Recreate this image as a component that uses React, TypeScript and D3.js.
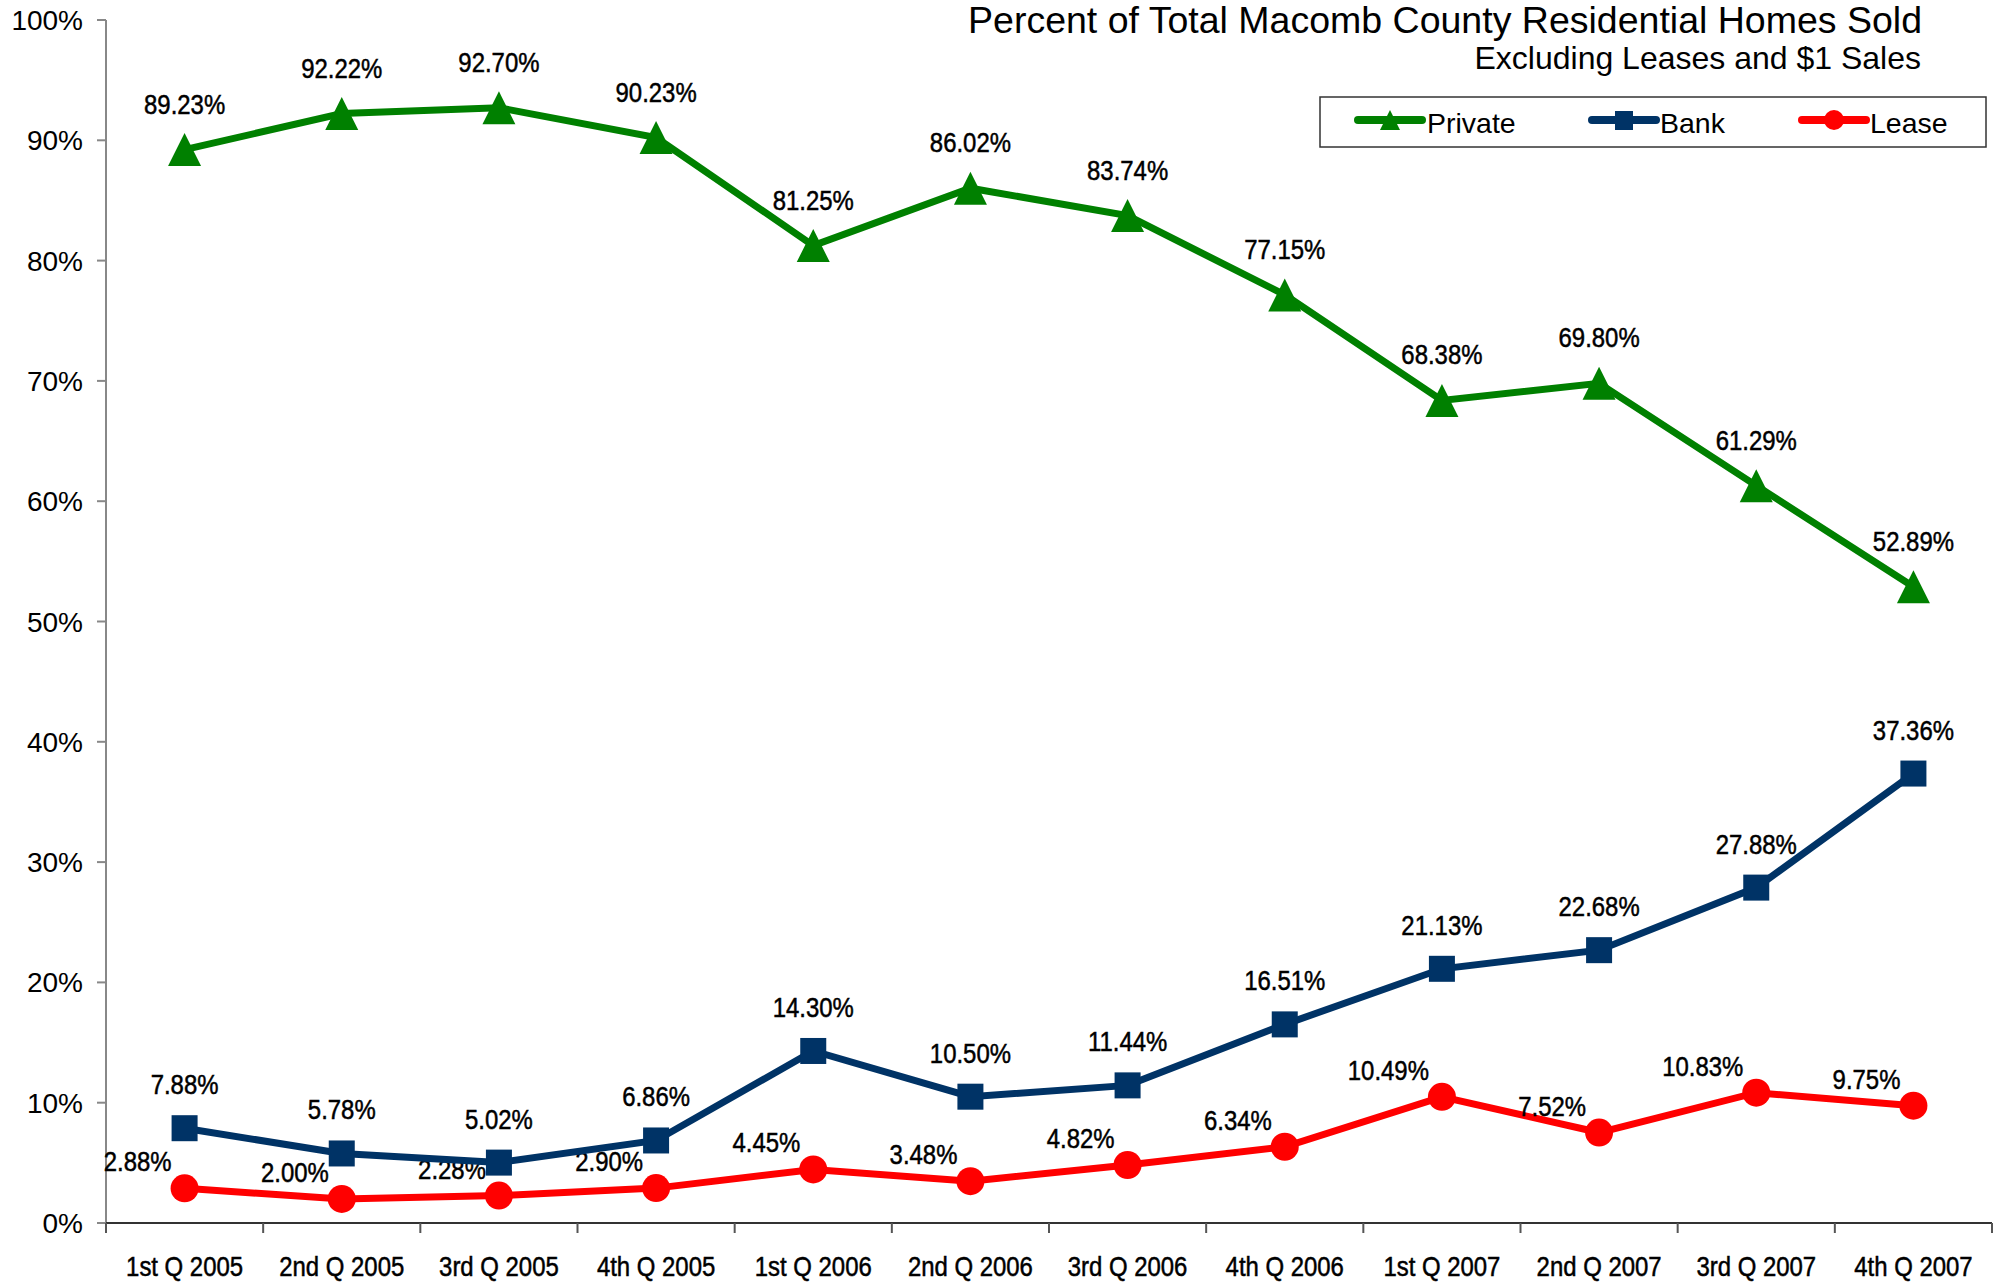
import React from 'react';
import * as d3 from 'd3';

// quarters on the x axis
const quarters = [
	'1st Q 2005', '2nd Q 2005', '3rd Q 2005', '4th Q 2005',
	'1st Q 2006', '2nd Q 2006', '3rd Q 2006', '4th Q 2006',
	'1st Q 2007', '2nd Q 2007', '3rd Q 2007', '4th Q 2007'
];

// percent of homes sold
const privateSales = [89.23, 92.22, 92.7, 90.23, 81.25, 86.02, 83.74, 77.15, 68.38, 69.8, 61.29, 52.89];
const bankSales = [7.88, 5.78, 5.02, 6.86, 14.3, 10.5, 11.44, 16.51, 21.13, 22.68, 27.88, 37.36];
const leaseSales = [2.88, 2.0, 2.28, 2.9, 4.45, 3.48, 4.82, 6.34, 10.49, 7.52, 10.83, 9.75];

const yTicks = [0, 10, 20, 30, 40, 50, 60, 70, 80, 90, 100];

const W = 2005, H = 1283;
const margin = { left: 106, right: 13, top: 20, bottom: 60 };

const GREEN = '#008000', NAVY = '#003366', RED = '#ff0000';
const sans = '"Liberation Sans", Arial, sans-serif';

const triangle = (x, y, w, h) => `M${x},${y - h / 2}L${x + w / 2},${y + h / 2}L${x - w / 2},${y + h / 2}Z`;

// narrow label: Arial squeezed sideways, like the Arial Narrow of the original
const Narrow = ({ x, y, anchor = 'middle', children }) => (
	<g transform={`translate(${x},${y}) scale(0.87,1)`}>
		<text textAnchor={anchor} fontFamily={sans} fontSize={27.5} stroke="#000" strokeWidth={0.5}>{children}</text>
	</g>
);

const App = () => {
	const x = d3.scaleBand().domain(quarters).range([margin.left, W - margin.right]);
	const y = d3.scaleLinear().domain([0, 100]).range([H - margin.bottom, margin.top]);
	const cx = (q) => x(q) + x.bandwidth() / 2;

	const line = d3.line()
		.x((d, i) => cx(quarters[i]))
		.y((d) => y(d));

	const bottom = y(0);
	const edges = quarters.map((q) => x(q)).concat([W - margin.right]);
	const fmt = (v) => v.toFixed(2) + '%';

	return (
		<svg width={W} height={H} style={{ position: 'absolute', left: 0, top: 0, background: '#fff' }}>
			{/* title */}
			<text x={1922} y={33} textAnchor="end" fontFamily={sans} fontSize={37.5}>
				Percent of Total Macomb County Residential Homes Sold
			</text>
			<text x={1921} y={69} textAnchor="end" fontFamily={sans} fontSize={32}>
				Excluding Leases and $1 Sales
			</text>

			{/* y axis */}
			<line x1={margin.left} x2={margin.left} y1={y(100)} y2={bottom} stroke="#888" strokeWidth={2} />
			{yTicks.map((t) => (
				<g key={t}>
					<line x1={margin.left - 9} x2={margin.left} y1={y(t)} y2={y(t)} stroke="#888" strokeWidth={2} />
					<text x={83} y={y(t) + 10} textAnchor="end" fontFamily={sans} fontSize={28}>{t}%</text>
				</g>
			))}

			{/* x axis */}
			<line x1={margin.left} x2={W - margin.right} y1={bottom} y2={bottom} stroke="#333" strokeWidth={2} />
			{edges.map((e, i) => (
				<line key={i} x1={e} x2={e} y1={bottom} y2={bottom + 10} stroke="#555" strokeWidth={2} />
			))}
			{quarters.map((q) => (
				<Narrow key={q} x={cx(q)} y={1276}>{q}</Narrow>
			))}

			{/* lease */}
			<path d={line(leaseSales)} fill="none" stroke={RED} strokeWidth={7} />
			{leaseSales.map((v, i) => (
				<g key={i}>
					<circle cx={cx(quarters[i])} cy={y(v)} r={14} fill={RED} />
					<Narrow x={cx(quarters[i]) - 13} y={y(v) - 17} anchor="end">{fmt(v)}</Narrow>
				</g>
			))}

			{/* bank */}
			<path d={line(bankSales)} fill="none" stroke={NAVY} strokeWidth={7} />
			{bankSales.map((v, i) => (
				<g key={i}>
					<rect x={cx(quarters[i]) - 13} y={y(v) - 13} width={26} height={26} fill={NAVY} />
					<Narrow x={cx(quarters[i])} y={y(v) - 34}>{fmt(v)}</Narrow>
				</g>
			))}

			{/* private */}
			<path d={line(privateSales)} fill="none" stroke={GREEN} strokeWidth={7} />
			{privateSales.map((v, i) => (
				<g key={i}>
					<path d={triangle(cx(quarters[i]), y(v), 33, 33)} fill={GREEN} />
					<Narrow x={cx(quarters[i])} y={y(v) - 36}>{fmt(v)}</Narrow>
				</g>
			))}

			{/* legend */}
			<rect x={1320} y={97} width={666} height={50} fill="#fff" stroke="#333" strokeWidth={1.5} />
			<line x1={1358} x2={1422} y1={120} y2={120} stroke={GREEN} strokeWidth={8} strokeLinecap="round" />
			<path d={triangle(1390, 120, 20, 20)} fill={GREEN} />
			<text x={1427} y={133} fontFamily={sans} fontSize={28.5}>Private</text>
			<line x1={1592} x2={1656} y1={120} y2={120} stroke={NAVY} strokeWidth={8} strokeLinecap="round" />
			<rect x={1615} y={111} width={18} height={19} fill={NAVY} />
			<text x={1660} y={133} fontFamily={sans} fontSize={28.5}>Bank</text>
			<line x1={1802} x2={1866} y1={120} y2={120} stroke={RED} strokeWidth={8} strokeLinecap="round" />
			<circle cx={1834} cy={120} r={10} fill={RED} />
			<text x={1870} y={133} fontFamily={sans} fontSize={28.5}>Lease</text>
		</svg>
	);
};

export default App;
